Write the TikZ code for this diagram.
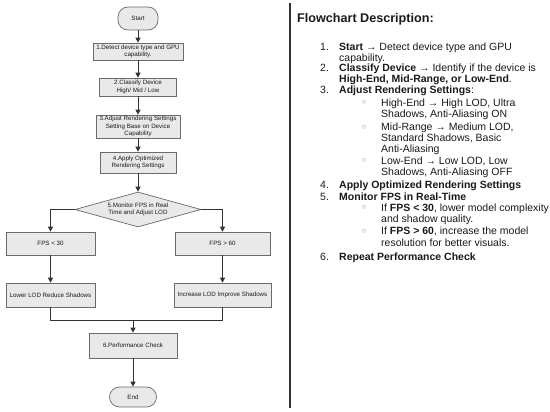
\documentclass[tikz,border=0pt]{standalone}
\usepackage{fontspec}
\setmainfont{Liberation Sans}
\usetikzlibrary{arrows.meta,shapes.geometric}
\definecolor{boxfill}{HTML}{E9E9E9}
\definecolor{boxline}{HTML}{6B6B6B}
\definecolor{lineclr}{HTML}{333333}
\definecolor{txtclr}{HTML}{1A1A1A}
\definecolor{bulclr}{HTML}{808080}
\begin{document}
\begin{tikzpicture}[x=1pt,y=-1pt,
  box/.style={draw=boxline, fill=boxfill, line width=0.7pt, rectangle, inner sep=0pt, align=center, text=txtclr, font=\fontsize{6.2}{7.3}\selectfont},
  term/.style={box, rounded corners=10pt},
  dec/.style={box, diamond, aspect=3.6},
  conn/.style={draw=lineclr, line width=1pt, -{Triangle[length=5pt,width=5pt]}},
  link/.style={draw=lineclr, line width=1pt},
  txt/.style={inner sep=0pt, anchor=base west, text=txtclr, font=\fontsize{10.5}{12}\selectfont},
  bul/.style={inner sep=0pt, anchor=center, text=bulclr, font=\fontsize{7.5}{8}\selectfont}
]
\useasboundingbox[fill=white] (0,0) rectangle (550,412);

% ---------- flowchart ----------
\node[term, minimum width=40pt, minimum height=23pt] (start) at (138,18.5) {Start};
\node[box, minimum width=90pt, minimum height=17pt] (b1) at (138,51.5) {1.Detect device type and GPU\\capability.};
\node[box, minimum width=77pt, minimum height=18pt] (b2) at (138,87) {2.Classify Device\\High/ Mid / Low};
\node[box, minimum width=84pt, minimum height=23pt] (b3) at (138,126.5) {3.Adjust Rendering Settings\\Setting Base on Device\\Capability};
\node[box, minimum width=76pt, minimum height=21pt] (b4) at (138,162.5) {4.Apply Optimized\\Rendering Settings};
\node[dec, minimum width=126pt, minimum height=35pt] (dia) at (138,209.5) {5.Monitor FPS in Real\\Time and Adjust LOD};
\node[box, minimum width=89pt, minimum height=23pt] (fl) at (50.5,243.5) {FPS < 30};
\node[box, minimum width=95pt, minimum height=23pt] (fh) at (222.5,243.5) {FPS > 60};
\node[box, minimum width=89pt, minimum height=24pt] (ll) at (50.5,295) {Lower LOD Reduce Shadows};
\node[box, minimum width=97pt, minimum height=24pt] (il) at (222.5,295) {Increase LOD Improve Shadows};
\node[box, minimum width=88pt, minimum height=25pt] (b6) at (133,345.5) {6.Performance Check};
\node[term, minimum width=47pt, minimum height=20pt] (end) at (133,397) {End};
\coordinate (m) at (133,320);

\draw[conn] (start) -- (b1);
\draw[conn] (b1) -- (b2);
\draw[conn] (b2) -- (b3);
\draw[conn] (b3) -- (b4);
\draw[conn] (b4) -- (dia);
\draw[conn] (dia.west) -| (fl.north);
\draw[conn] (dia.east) -| (fh.north);
\draw[conn] (fl) -- (ll);
\draw[conn] (fh) -- (il);
\draw[link] (ll.south) |- (m);
\draw[link] (il.south) |- (m);
\draw[conn] (m) -- (b6);
\draw[conn] (b6) -- (end);

% ---------- divider ----------
\coordinate (dtop) at (290,3);
\coordinate (dbot) at (290,408);
\draw[draw=lineclr, line width=1.2pt] (dtop) -- (dbot);

% ---------- description ----------
\node[txt, font=\fontsize{12.6}{14}\selectfont\bfseries] (title) at (297,23) {Flowchart Description:};

\node[txt] (n1) at (320,50.5) {1.};
\node[txt] (l1) at (339,50.5) {\textbf{Start} → Detect device type and GPU};
\node[txt] (l1b) at (339,61.5) {capability.};
\node[txt] (n2) at (320,72) {2.};
\node[txt] (l2) at (339,72) {\textbf{Classify Device} → Identify if the device is};
\node[txt] (l2b) at (339,82.5) {\textbf{High-End, Mid-Range, or Low-End}.};
\node[txt] (n3) at (320,93.5) {3.};
\node[txt] (l3) at (339,93.5) {\textbf{Adjust Rendering Settings}:};

\node[bul] (c1) at (364,103) {○};
\node[txt] (s1) at (381,106.5) {High-End → High LOD, Ultra};
\node[txt] (s1b) at (381,118) {Shadows, Anti-Aliasing ON};
\node[bul] (c2) at (364,127.5) {○};
\node[txt] (s2) at (381,131) {Mid-Range → Medium LOD,};
\node[txt] (s2b) at (381,141.5) {Standard Shadows, Basic};
\node[txt] (s2c) at (381,152.5) {Anti-Aliasing};
\node[bul] (c3) at (364,161) {○};
\node[txt] (s3) at (381,164.5) {Low-End → Low LOD, Low};
\node[txt] (s3b) at (381,175.5) {Shadows, Anti-Aliasing OFF};

\node[txt] (n4) at (320,189) {4.};
\node[txt] (l4) at (339,189) {\textbf{Apply Optimized Rendering Settings}};
\node[txt] (n5) at (320,200.5) {5.};
\node[txt] (l5) at (339,200.5) {\textbf{Monitor FPS in Real-Time}};
\node[bul] (c4) at (364,208) {○};
\node[txt] (s4) at (381,211.5) {If \textbf{FPS < 30}, lower model complexity};
\node[txt] (s4b) at (381,222.5) {and shadow quality.};
\node[bul] (c5) at (364,231.5) {○};
\node[txt] (s5) at (381,235) {If \textbf{FPS > 60}, increase the model};
\node[txt] (s5b) at (381,246.5) {resolution for better visuals.};
\node[txt] (n6) at (320,260.5) {6.};
\node[txt] (l6) at (339,260.5) {\textbf{Repeat Performance Check}};
\end{tikzpicture}
\end{document}
